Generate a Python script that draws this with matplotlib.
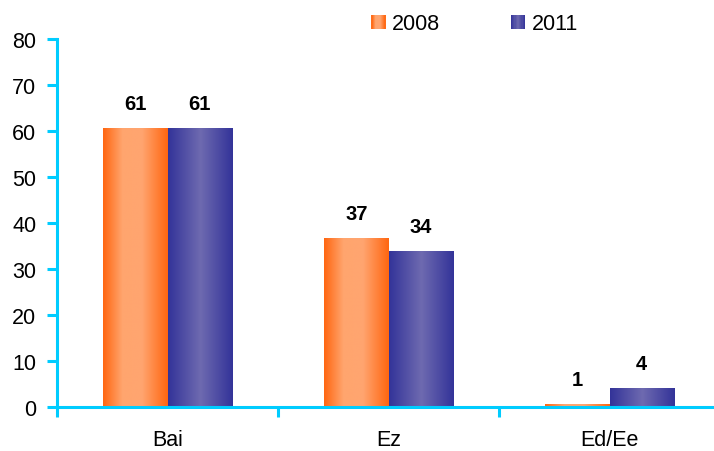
import numpy as np
import matplotlib.pyplot as plt
from matplotlib.colors import LinearSegmentedColormap
from matplotlib.patches import Rectangle
from matplotlib.legend_handler import HandlerBase

plt.rcParams['font.family'] = ['Liberation Sans', 'DejaVu Sans']

categories = ['Bai', 'Ez', 'Ed/Ee']
series = ['2008', '2011']
values_2008 = [60.6, 36.7, 0.6]
values_2011 = [60.6, 33.9, 4.0]
labels_2008 = ['61', '37', '1']
labels_2011 = ['61', '34', '4']

axis_color = '#00CCFF'
cm_orange = LinearSegmentedColormap.from_list(
    'org', [(0, '#FF6610'), (0.3, '#FFA56E'), (0.6, '#FFA570'), (1, '#FF6610')])
cm_purple = LinearSegmentedColormap.from_list(
    'pur', [(0, '#333399'), (0.5, '#6E6AB0'), (1, '#333399')])
grad = np.linspace(0, 1, 256).reshape(1, -1)

fs = 15.5
fig = plt.figure(figsize=(7.14, 4.52), dpi=100)
ax = fig.add_axes([57 / 714, 44 / 452, 663 / 714, 368 / 452])

bw = 0.29
x = np.arange(len(categories)) + 0.5


def gradient_bars(xs, vals, cmap):
    for xi, v in zip(xs, vals):
        ax.imshow(grad, cmap=cmap, extent=(xi - bw / 2, xi + bw / 2, 0, v),
                  aspect='auto', zorder=2, interpolation='bilinear')


gradient_bars(x - bw / 2, values_2008, cm_orange)
gradient_bars(x + bw / 2, values_2011, cm_purple)

for xi, v, lab in zip(x - bw / 2, values_2008, labels_2008):
    ax.annotate(lab, (xi, v), xytext=(0, 11), textcoords='offset points',
                ha='center', va='bottom', fontsize=14.5, fontweight='bold')
for xi, v, lab in zip(x + bw / 2, values_2011, labels_2011):
    ax.annotate(lab, (xi, v), xytext=(0, 11), textcoords='offset points',
                ha='center', va='bottom', fontsize=14.5, fontweight='bold')

ax.set_xlim(0, 3)
ax.set_ylim(0, 80)
ax.set_yticks(range(0, 81, 10))
ax.set_xticks([0, 1, 2, 3])
ax.set_xticklabels([])
ax.set_xticks(x, minor=True)
ax.set_xticklabels(categories, minor=True, fontsize=fs)
ax.tick_params(axis='x', which='minor', length=0, pad=16)
ax.tick_params(axis='x', which='major', length=7, width=2.2, color=axis_color)
ax.tick_params(axis='y', length=7, width=2.2, color=axis_color, labelsize=fs, pad=8)

for s in ['top', 'right']:
    ax.spines[s].set_visible(False)
for s in ['left', 'bottom']:
    ax.spines[s].set_color(axis_color)
    ax.spines[s].set_linewidth(2.2)
    ax.spines[s].set_zorder(3)
ax.spines['left'].set_bounds(0, 80)


class GradHandler(HandlerBase):
    def __init__(self, cmap):
        super().__init__()
        self.cmap = cmap

    def create_artists(self, legend, orig_handle, xdescent, ydescent,
                       width, height, fontsize, trans):
        n = 12
        size = width
        x0 = -xdescent
        y0 = -ydescent + (height - size) / 2
        arts = []
        for i in range(n):
            r = Rectangle((x0 + i * size / n, y0), size / n + 0.3, size,
                          facecolor=self.cmap((i + 0.5) / n), edgecolor='none',
                          transform=trans)
            arts.append(r)
        return arts


h1 = Rectangle((0, 0), 1, 1)
h2 = Rectangle((0, 0), 1, 1)
fig.legend([h1, h2], series, handler_map={h1: GradHandler(cm_orange), h2: GradHandler(cm_purple)},
           loc='center', bbox_to_anchor=(474.5 / 714, 1 - 25 / 452), ncol=2, frameon=False,
           fontsize=fs, handlelength=0.65, handletextpad=0.3, columnspacing=3.3)

fig.savefig('out.png', dpi=100)
